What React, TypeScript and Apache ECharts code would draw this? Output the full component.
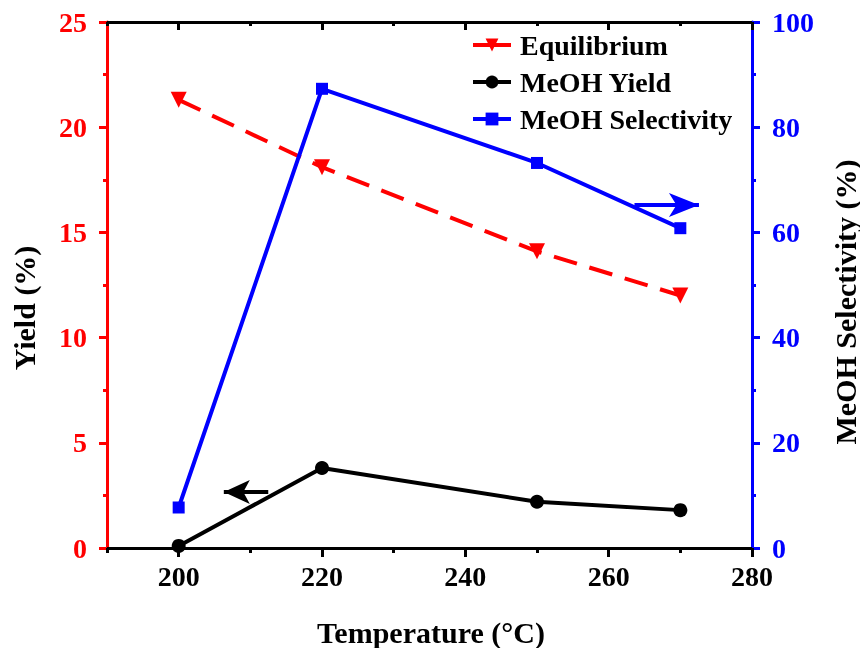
import React, { useEffect, useRef } from "react";
import * as echarts from "echarts";

const temps = [200, 220, 250, 270];
const equilibrium = [21.3, 18.1, 14.1, 12.0];
const meohYield = [0.1, 3.8, 2.2, 1.8];
const meohSelectivity = [7.7, 87.3, 73.2, 60.8];
const xMajorTicks = [200, 220, 240, 260, 280];
const xMinorTicks = [190, 210, 230, 250, 270];

const FONT = "'Liberation Serif', 'Times New Roman', serif";

export default function App() {
  const ref = useRef<HTMLDivElement>(null);
  useEffect(() => {
    if (!ref.current) return;
    const chart = echarts.init(ref.current, undefined, { renderer: "svg" });
    const pair = (ys: number[]) => temps.map((t, i) => [t, ys[i]]);
    const baseX = {
      type: "value",
      min: 190,
      max: 280,
      gridIndex: 0,
      splitLine: { show: false },
    };
    const titleStyle = { fontFamily: FONT, fontWeight: "bold", fontSize: 30, fill: "#000" };
    chart.setOption({
      animation: false,
      textStyle: { fontFamily: FONT },
      grid: { left: 107, right: 108, top: 22, bottom: 100, containLabel: false },
      legend: {
        orient: "vertical",
        left: 466,
        top: 26,
        itemGap: 9,
        itemWidth: 38,
        itemHeight: 16,
        lineStyle: { width: 4, type: "solid" },
        textStyle: { fontFamily: FONT, fontWeight: "bold", fontSize: 28, color: "#000", padding: [0, 0, 0, 4] },
        data: ["Equilibrium", "MeOH Yield", "MeOH Selectivity"],
      },
      graphic: [
        {
          type: "text",
          x: 24,
          y: 308,
          rotation: Math.PI / 2,
          style: { ...titleStyle, text: "Yield (%)", textAlign: "center", textVerticalAlign: "middle" },
        },
        {
          type: "text",
          x: 845,
          y: 302,
          rotation: Math.PI / 2,
          style: { ...titleStyle, text: "MeOH Selectivity (%)", textAlign: "center", textVerticalAlign: "middle" },
        },
        {
          type: "text",
          x: 431,
          y: 632,
          style: { ...titleStyle, text: "Temperature (°C)", textAlign: "center", textVerticalAlign: "middle" },
        },
      ],
      xAxis: [
        {
          ...baseX,
          position: "bottom",
          axisLine: { show: true, onZero: false, lineStyle: { color: "#000", width: 3 } },
          axisTick: { show: true, inside: false, length: 9, lineStyle: { width: 3, color: "#000" }, customValues: xMajorTicks },
          axisLabel: { show: true, customValues: xMajorTicks, margin: 14, fontFamily: FONT, fontWeight: "bold", fontSize: 28, color: "#000" },
        },
        {
          ...baseX,
          position: "bottom",
          axisLine: { show: false, onZero: false },
          axisTick: { show: true, inside: false, length: 5, lineStyle: { width: 3, color: "#000" }, customValues: xMinorTicks },
          axisLabel: { show: false },
        },
        {
          ...baseX,
          position: "top",
          axisLine: { show: true, onZero: false, lineStyle: { color: "#000", width: 3 } },
          axisTick: { show: true, inside: true, length: 8, lineStyle: { width: 3, color: "#000" }, customValues: xMajorTicks },
          axisLabel: { show: false },
        },
        {
          ...baseX,
          position: "top",
          axisLine: { show: false, onZero: false },
          axisTick: { show: true, inside: true, length: 4, lineStyle: { width: 3, color: "#000" }, customValues: xMinorTicks },
          axisLabel: { show: false },
        },
      ],
      yAxis: [
        {
          type: "value",
          position: "left",
          min: 0,
          max: 25,
          interval: 5,
          splitLine: { show: false },
          axisLine: { show: true, onZero: false, lineStyle: { color: "#ff0000", width: 3 } },
          axisTick: { show: true, inside: false, length: 8, lineStyle: { width: 3, color: "#ff0000" } },
          minorTick: { show: true, splitNumber: 2, length: 4, lineStyle: { width: 3, color: "#ff0000" } },
          axisLabel: { margin: 20, fontFamily: FONT, fontWeight: "bold", fontSize: 28, color: "#ff0000" },
        },
        {
          type: "value",
          position: "right",
          min: 0,
          max: 100,
          interval: 20,
          splitLine: { show: false },
          axisLine: { show: true, onZero: false, lineStyle: { color: "#0000ff", width: 3 } },
          axisTick: { show: true, inside: false, length: 8, lineStyle: { width: 3, color: "#0000ff" } },
          minorTick: { show: true, splitNumber: 2, length: 4, lineStyle: { width: 3, color: "#0000ff" } },
          axisLabel: { margin: 20, fontFamily: FONT, fontWeight: "bold", fontSize: 28, color: "#0000ff" },
        },
      ],
      series: [
        {
          name: "Equilibrium",
          type: "line",
          xAxisIndex: 0,
          yAxisIndex: 0,
          data: pair(equilibrium),
          symbol: "triangle",
          symbolRotate: 180,
          symbolSize: 16,
          itemStyle: { color: "#ff0000" },
          lineStyle: { color: "#ff0000", width: 4, type: [24, 13] },
        },
        {
          name: "MeOH Yield",
          type: "line",
          xAxisIndex: 0,
          yAxisIndex: 0,
          data: pair(meohYield),
          symbol: "circle",
          symbolSize: 14,
          itemStyle: { color: "#000" },
          lineStyle: { color: "#000", width: 4 },
          markLine: {
            silent: true,
            symbol: ["none", "arrow"],
            symbolSize: [18, 26],
            label: { show: false },
            lineStyle: { color: "#000", width: 4, type: "solid" },
            data: [[{ coord: [212.5, 2.66] }, { coord: [206.3, 2.66] }]],
          },
        },
        {
          name: "MeOH Selectivity",
          type: "line",
          xAxisIndex: 0,
          yAxisIndex: 1,
          data: pair(meohSelectivity),
          symbol: "rect",
          symbolSize: 12,
          itemStyle: { color: "#0000ff" },
          lineStyle: { color: "#0000ff", width: 4 },
          markLine: {
            silent: true,
            symbol: ["none", "arrow"],
            symbolSize: [18, 30],
            label: { show: false },
            lineStyle: { color: "#0000ff", width: 4, type: "solid" },
            data: [[{ coord: [263.6, 65.2] }, { coord: [272.6, 65.2] }]],
          },
        },
      ],
    });
    return () => chart.dispose();
  }, []);
  return <div ref={ref} style={{ position: "fixed", left: 0, top: 0, width: 860, height: 648 }} />;
}
